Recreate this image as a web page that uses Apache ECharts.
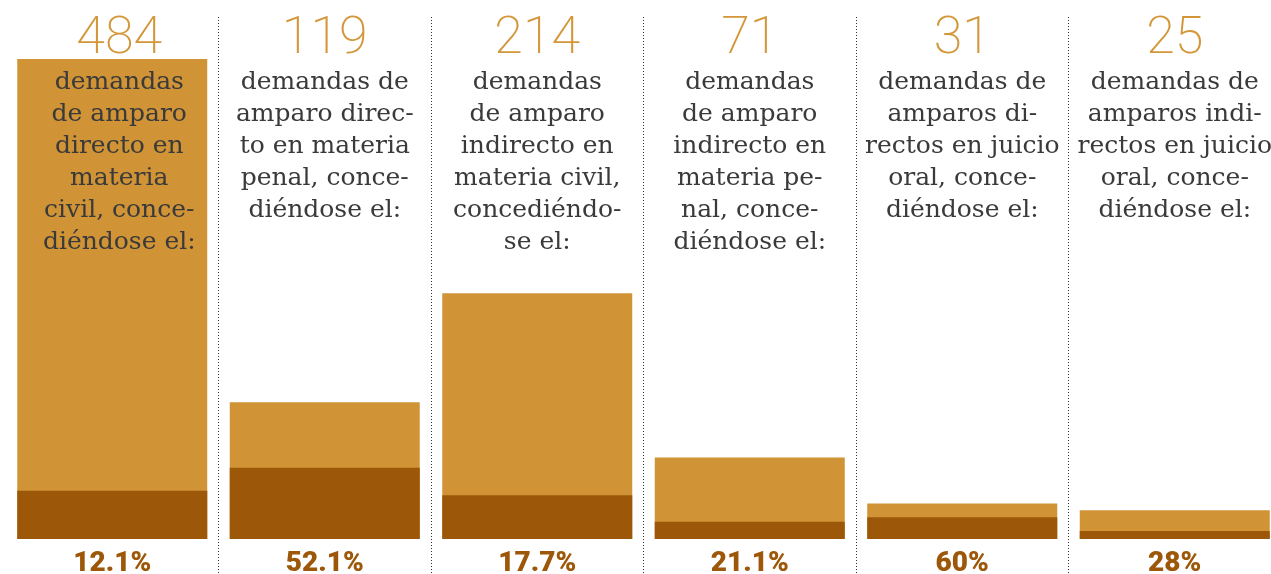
<!DOCTYPE html>
<html>
<head>
<meta charset="utf-8">
<title>Demandas de amparo</title>
<script src="https://cdn.jsdelivr.net/npm/echarts@6/dist/echarts.min.js"></script>
<style>
  html, body { margin: 0; padding: 0; background: #fff; }
  #chart { width: 1271px; height: 574px; }
</style>
</head>
<body>
<div id="chart"></div>
<script>
  // datos
  var categories = ['directo civil', 'directo penal', 'indirecto civil', 'indirecto penal', 'directos juicio oral', 'indirectos juicio oral'];
  var totals = [484, 119, 214, 71, 31, 25];
  var granted = [42, 62, 38, 15, 19, 7];   // parte concedida (barra oscura)
  var pctLabels = ['12.1%', '52.1%', '17.7%', '21.1%', '60%', '28%'];
  var descriptions = [
    ['demandas', 'de amparo', 'directo en', 'materia', 'civil, conce-', 'diéndose el:'],
    ['demandas de', 'amparo direc-', 'to en materia', 'penal, conce-', 'diéndose el:'],
    ['demandas', 'de amparo', 'indirecto en', 'materia civil,', 'concediéndo-', 'se el:'],
    ['demandas', 'de amparo', 'indirecto en', 'materia pe-', 'nal, conce-', 'diéndose el:'],
    ['demandas de', 'amparos di-', 'rectos en juicio', 'oral, conce-', 'diéndose el:'],
    ['demandas de', 'amparos indi-', 'rectos en juicio', 'oral, conce-', 'diéndose el:']
  ];
  var yMax = 418; // la primera barra se corta arriba, como en el original

  var gold = '#D09335';
  var brown = '#9C5708';

  var chart = echarts.init(document.getElementById('chart'));

  var hiddenCat = {
    type: 'category', data: categories,
    axisLine: { show: false }, axisTick: { show: false }, axisLabel: { show: false }
  };
  var hiddenVal = { type: 'value', show: false, splitLine: { show: false } };

  var labelData = categories.map(function (c, i) {
    var item = { value: 1 };
    if (i === 0) item.label = { offset: [7, 0] };
    return item;
  });

  // la ultima columna queda cortada por el borde derecho
  var gridBase = { left: 6, width: 1275, outerBoundsMode: 'none' };

  option = {
    animation: false,
    grid: [
      Object.assign({ top: 59, bottom: 35 }, gridBase),
      Object.assign({ top: 17, bottom: 0 }, gridBase),
      Object.assign({ top: 0, bottom: 0 }, gridBase)
    ],
    xAxis: [
      Object.assign({ gridIndex: 0 }, hiddenCat),
      Object.assign({ gridIndex: 1 }, hiddenCat, {
        splitLine: {
          show: true,
          interval: function (index) { return index > 0; },
          lineStyle: { color: '#333', width: 1, type: [1, 2] }
        }
      }),
      Object.assign({ gridIndex: 2 }, hiddenCat)
    ],
    yAxis: [
      Object.assign({ gridIndex: 0, min: 0, max: yMax }, hiddenVal),
      Object.assign({ gridIndex: 1, min: 0, max: 1 }, hiddenVal),
      Object.assign({ gridIndex: 2, min: 0, max: 1 }, hiddenVal)
    ],
    series: [
      {
        name: 'total',
        type: 'bar',
        data: totals,
        barWidth: 190,
        clip: true,
        itemStyle: { color: gold },
        silent: true
      },
      {
        name: 'concedido',
        type: 'bar',
        data: granted,
        barWidth: 190,
        barGap: '-100%',
        itemStyle: { color: brown },
        silent: true,
        label: {
          show: true,
          position: 'bottom',
          distance: 11,
          formatter: function (p) { return pctLabels[p.dataIndex]; },
          fontFamily: 'Roboto',
          fontWeight: 900,
          fontSize: 28,
          color: brown
        }
      },
      {
        name: 'textos',
        type: 'bar',
        xAxisIndex: 2,
        yAxisIndex: 2,
        data: labelData,
        barWidth: 200,
        z: 10,
        silent: true,
        itemStyle: { color: 'rgba(0,0,0,0)' },
        label: {
          show: true,
          position: 'insideTop',
          distance: 0,
          align: 'center',
          formatter: function (p) {
            var i = p.dataIndex;
            return '{num|' + totals[i] + '}\n{txt|' + descriptions[i].join('\n') + '}';
          },
          rich: {
            num: { fontFamily: 'Roboto', fontWeight: 200, fontSize: 52, lineHeight: 66, padding: [14, 0, 0, 0], color: '#D3973A' },
            txt: { fontFamily: '"DejaVu Serif"', fontSize: 25, lineHeight: 32, color: '#3a3a3a' }
          }
        }
      }
    ]
  };
  chart.setOption(option);
</script>
</body>
</html>
